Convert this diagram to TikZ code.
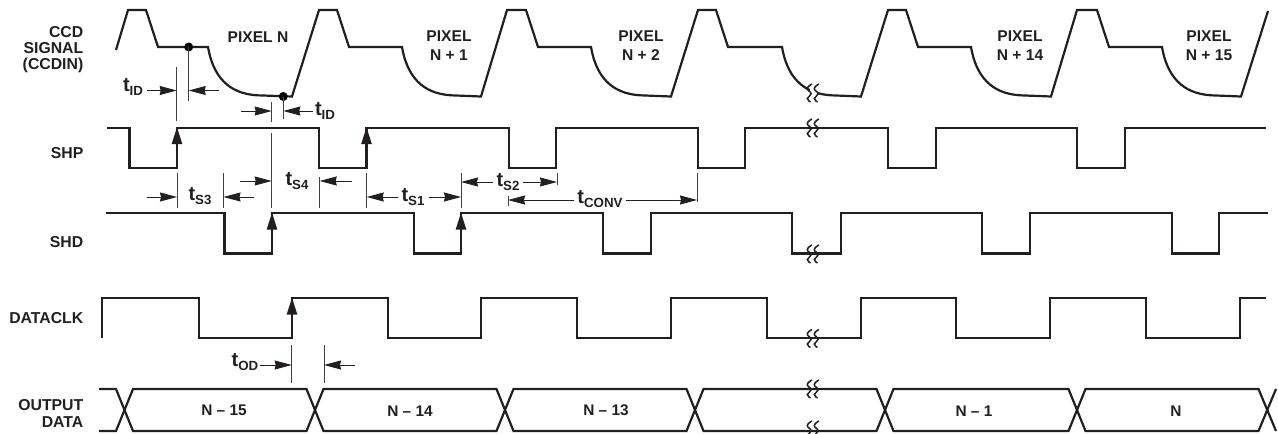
\documentclass[tikz,border=0pt]{standalone}
\usepackage{fontspec}
\setmainfont{Liberation Sans}[BoldFont={Liberation Sans Bold}]
\usetikzlibrary{arrows.meta,calc}
\definecolor{ink}{HTML}{231F20}
\newcommand{\tlab}[1]{{\fontsize{20}{20}\selectfont t}\raisebox{-3.5pt}{\fontsize{13.3}{13}\selectfont #1}}
\newcommand{\fallpart}[2]{(#1,47) .. controls ({#1+5},76) and ({#1+20},93.5) .. ({#1+49},95.3) -- (#2,96.5)}
\tikzset{
  wave/.style={draw=ink,line width=2.2pt,line join=miter,line cap=butt},
  tick/.style={draw=ink!85,line width=0.9pt},
  dimarrow/.style={draw=ink,line width=0.9pt,-{Stealth[length=17pt,width=9pt,inset=1pt]}},
  edgearrow/.style={draw=ink,line width=2.4pt,-{Triangle[length=17pt,width=10pt]}},
  siglabel/.style={font=\bfseries\fontsize{15.8}{16.3}\selectfont,text=ink,anchor=east,align=right,inner sep=0pt},
  pixlabel/.style={font=\bfseries\fontsize{15.6}{19}\selectfont,text=ink,align=center,inner sep=0pt},
  datalabel/.style={font=\bfseries\fontsize{15.4}{16}\selectfont,text=ink,inner sep=0pt},
  tlabel/.style={font=\bfseries,text=ink,inner sep=0pt},
  squig/.style={draw=ink,line width=1.5pt},
  dot/.style={circle,fill=black,inner sep=0pt,minimum size=9pt}
}
\newcommand{\squiggle}[2]{%
  \foreach \dx in {-3.5,3.5}{
    \draw[squig] plot[smooth,tension=0.8] coordinates {({#1+\dx+2.4},{#2-9}) ({#1+\dx-2.2},{#2-4.5}) ({#1+\dx+1.6},{#2+0.8}) ({#1+\dx-2.2},{#2+5.5}) ({#1+\dx+1},{#2+9})};
  }}
\begin{document}
\begin{tikzpicture}[x=1pt,y=-1pt]
\useasboundingbox (0,0) rectangle (1278,434);
% CCD signal
\draw[wave] (116,50) -- (128,10) -- (146,10) -- (158,47) -- \fallpart{208}{292}
  -- (319,10) -- (337,10) -- (349,47) -- \fallpart{402}{481}
  -- (507,10) -- (526,10) -- (538,47) -- \fallpart{591}{671}
  -- (698,10) -- (716,10) -- (728,47) -- \fallpart{782}{861}
  -- (888,10) -- (906,10) -- (918,47) -- \fallpart{971}{1051}
  -- (1077,10) -- (1097,10) -- (1109,47) -- \fallpart{1162}{1241}
  -- (1268,11);
% SHP
\draw[wave] (107,128) -- (129.5,128) -- (129.5,168) -- (177,168) -- (177,128)
  -- (319,128) -- (319,168) -- (366.5,168) -- (366.5,128)
  -- (509,128) -- (509,168) -- (556,168) -- (556,128)
  -- (698,128) -- (698,168) -- (745,168) -- (745,128)
  -- (888,128) -- (888,168) -- (936,168) -- (936,128)
  -- (1077,128) -- (1077,168) -- (1125,168) -- (1125,128) -- (1266,128);
% SHD
\draw[wave] (106,213) -- (224.5,213) -- (224.5,253.5) -- (272,253.5) -- (272,213)
  -- (414,213) -- (414,253.5) -- (461,253.5) -- (461,213)
  -- (603,213) -- (603,253.5) -- (651,253.5) -- (651,213)
  -- (792,213) -- (792,253.5) -- (841,253.5) -- (841,213)
  -- (982,213) -- (982,253.5) -- (1030,253.5) -- (1030,213)
  -- (1172,213) -- (1172,253.5) -- (1219,253.5) -- (1219,213) -- (1268,213);
% DATACLK
\draw[wave] (102,338) -- (102,298) -- (199,298) -- (199,338) -- (292,338) -- (292,298)
  -- (388,298) -- (388,338) -- (481,338) -- (481,298)
  -- (577,298) -- (577,338) -- (671,338) -- (671,298)
  -- (767,298) -- (767,338) -- (861,338) -- (861,298)
  -- (956,298) -- (956,338) -- (1050,338) -- (1050,298)
  -- (1146,298) -- (1146,338) -- (1240,338) -- (1240,298) -- (1266,298);
% OUTPUT DATA bus
\draw[wave] (99,389) -- (116,389) -- (133,431) -- (306.5,431) -- (323.5,389) -- (496.5,389) -- (513.5,431) -- (686.5,431) -- (703.5,389) -- (876.5,389) -- (893.5,431) -- (1068.5,431) -- (1085.5,389) -- (1258.5,389) -- (1276,431);
\draw[wave] (99,431) -- (116,431) -- (133,389) -- (306.5,389) -- (323.5,431) -- (496.5,431) -- (513.5,389) -- (686.5,389) -- (703.5,431) -- (876.5,431) -- (893.5,389) -- (1068.5,389) -- (1085.5,431) -- (1258.5,431) -- (1276,389);
% break marks
\fill[white] (809.5,87) rectangle (816.5,99);
\squiggle{813}{93}
\squiggle{813}{128}
\squiggle{813}{254}
\squiggle{813}{338.5}
\squiggle{813}{389}
\squiggle{813}{430}
% reference edges
\coordinate (shpA0) at (177,168);   \coordinate (shpA1) at (177,127);
\coordinate (shpB0) at (366.5,168); \coordinate (shpB1) at (366.5,127);
\coordinate (shdA0) at (272,253.5); \coordinate (shdA1) at (272,212.5);
\coordinate (shdB0) at (461,253.5); \coordinate (shdB1) at (461,212.5);
\coordinate (clkA0) at (292,338);   \coordinate (clkA1) at (292,297.5);
\draw[edgearrow] (shpA0) -- (shpA1);
\draw[edgearrow] (shpB0) -- (shpB1);
\draw[edgearrow] (shdA0) -- (shdA1);
\draw[edgearrow] (shdB0) -- (shdB1);
\draw[edgearrow] (clkA0) -- (clkA1);
% dots
\node[dot] (dotA) at (188.7,47) {};
\node[dot] (dotB) at (283.3,96.5) {};
% signal labels
\node[siglabel] (lccd) at (83.5,49.5) {CCD\\SIGNAL\\(CCDIN)};
\node[siglabel] (lshp) at (83.5,153) {SHP};
\node[siglabel] (lshd) at (83.5,241.7) {SHD};
\node[siglabel] (lclk) at (83.5,317.7) {DATACLK};
\node[siglabel] (lout) at (83.5,413.5) {OUTPUT\\DATA};
% pixel labels
\node[pixlabel] (p0) at (258,37) {PIXEL N};
\node[pixlabel] (p1) at (449,46) {PIXEL\\N + 1};
\node[pixlabel] (p2) at (641,46) {PIXEL\\N + 2};
\node[pixlabel] (p14) at (1020,46) {PIXEL\\N + 14};
\node[pixlabel] (p15) at (1209,46) {PIXEL\\N + 15};
% data labels
\node[datalabel] (d15) at (224,410.7) {N – 15};
\node[datalabel] (d14) at (410,410.7) {N – 14};
\node[datalabel] (d13) at (606,410.7) {N – 13};
\node[datalabel] (d1) at (974,410.7) {N – 1};
\node[datalabel] (d0) at (1176,410.7) {N};
% timing labels
\node[tlabel] (tid1) at (133,87) {\tlab{ID}};
\node[tlabel] (tid2) at (325,111) {\tlab{ID}};
\node[tlabel] (ts3) at (200,196) {\tlab{S3}};
\node[tlabel] (ts4) at (297,181) {\tlab{S4}};
\node[tlabel] (ts1) at (413,197) {\tlab{S1}};
\node[tlabel] (ts2) at (508,182) {\tlab{S2}};
\node[tlabel] (tconv) at (600,199) {\tlab{CONV}};
\node[tlabel] (tod) at (245,362) {\tlab{OD}};
% timing reference lines: top / bottom coordinates
\foreach \n/\x/\a/\b in {
  va/176.7/67/121, vb/188.7/47/101, vc/271.7/102/122, vd/283.3/97/119,
  ve/271.7/133/208, vf/177/173/208, vg/223.5/173/208, vh/319.7/177/208,
  vi/366.7/173/208, vj/461/173/208, vk/557/173/185, vl/508/196/206,
  vm/697/173/202, vn/291.7/345/383, vo/324/345/383}{
  \coordinate (\n1) at (\x,\a);
  \coordinate (\n2) at (\x,\b);
  \draw[tick] (\n1) -- (\n2);
}
% free ends of the timing arrows
\coordinate (ida) at (219,90.5);
\coordinate (idb) at (241,111);
\coordinate (sa) at (146.7,197);
\coordinate (sb) at (254,197);
\coordinate (sc) at (240,181);
\coordinate (sd) at (351.7,181);
\coordinate (oa) at (355,365);
\draw[dimarrow] (tid1.east |- 0,90.5) ++(4,0) coordinate (x1) -- (va1 |- x1);
\draw[dimarrow] (ida) -- (vb1 |- ida);
\draw[dimarrow] (idb) -- (vc1 |- idb);
\draw[dimarrow] (tid2.west |- idb) ++(-2,0) coordinate (x2) -- (vd1 |- x2);
\draw[dimarrow] (sa) -- (vf1 |- sa);
\draw[dimarrow] (sb) -- (vg1 |- sb);
\draw[dimarrow] (sc) -- (ve1 |- sc);
\draw[dimarrow] (sd) -- (vh1 |- sd);
\draw[dimarrow] (ts1.west |- 0,197) ++(-3,0) coordinate (x3) -- (vi1 |- x3);
\draw[dimarrow] (ts1.east |- 0,197) ++(4,0) coordinate (x4) -- (vj1 |- x4);
\draw[dimarrow] (ts2.west |- 0,182) ++(-3,0) coordinate (x5) -- (vj1 |- x5);
\draw[dimarrow] (ts2.east |- 0,182) ++(3,0) coordinate (x6) -- (vk1 |- x6);
\draw[dimarrow] (tconv.west |- 0,200) ++(-3,0) coordinate (x7) -- (vl1 |- x7);
\draw[dimarrow] (tconv.east |- 0,200) ++(3,0) coordinate (x8) -- (vm1 |- x8);
\draw[dimarrow] (tod.east |- 0,365) ++(1,0) coordinate (x9) -- (vn1 |- x9);
\draw[dimarrow] (oa) -- (vo1 |- oa);
\end{tikzpicture}
\end{document}
